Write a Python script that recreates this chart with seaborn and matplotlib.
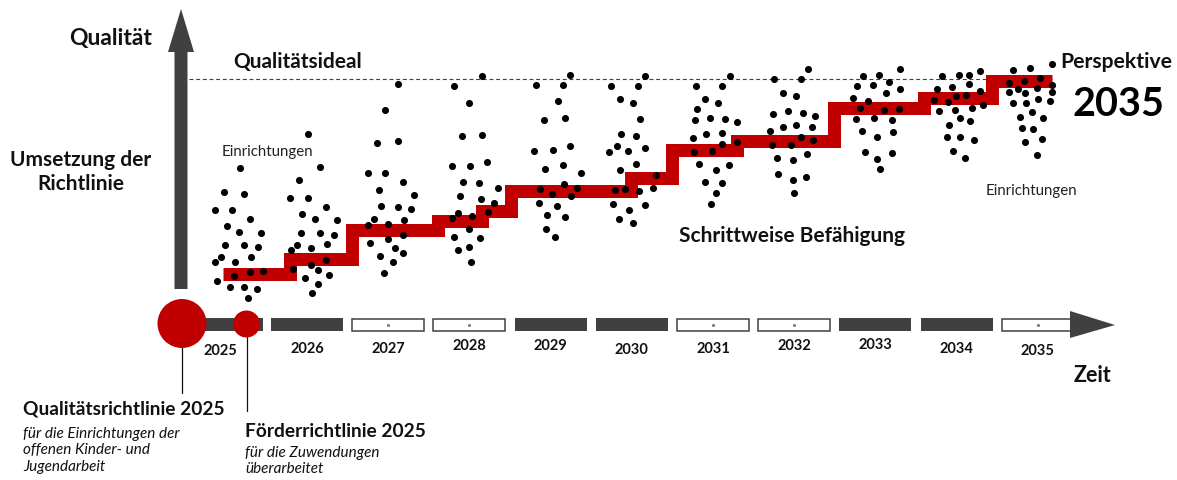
import matplotlib
matplotlib.use("Agg")
import numpy as np
import pandas as pd
import seaborn as sns
import matplotlib.pyplot as plt
from matplotlib.patches import FancyArrow, Circle

## canvas coordinates of the diagram (x to the right, y downwards)
W, H = 1177, 481

## timeline
years = [2025, 2026, 2027, 2028, 2029, 2030, 2031, 2032, 2033, 2034, 2035]
box_filled = [True, True, False, False, True, True, False, False, True, True, False]
label_y = [351, 349, 349, 346, 346, 350, 349, 346, 345, 349, 351]

## staircase (Schrittweise Befaehigung)
step_edges = [223, 289.5, 352, 438, 481.5, 510.5, 631, 672, 737, 834, 924, 992, 1052]
step_levels = [274.5, 260, 230.5, 221.5, 211.5, 191.5, 178.5, 150.5, 142, 109, 98.5, 82]

## Einrichtungen per year
dots_x_2025 = [240, 224, 244, 215, 232, 250, 227, 239, 261, 225, 244, 258, 221, 215, 235, 251, 234, 250, 263, 217, 230, 244, 257, 248]
dots_y_2025 = [169, 193, 195, 211, 211, 220, 227, 233, 234, 246, 246, 248, 258, 263, 263, 258, 277, 273, 272, 282, 288, 288, 290, 299]
dots_x_2026 = [308, 320, 299, 290, 308, 326, 302, 315, 337, 301, 320, 334, 297, 311, 327, 291, 326, 311, 293, 318, 305, 329, 318, 312]
dots_y_2026 = [135, 168, 181, 199, 199, 208, 215, 220, 221, 234, 234, 236, 246, 249, 245, 251, 261, 266, 270, 271, 279, 276, 285, 294]
dots_x_2027 = [398, 385, 377, 398, 368, 385, 403, 379, 414, 381, 398, 411, 374, 368, 388, 404, 403, 388, 370, 395, 380, 403, 393, 384]
dots_y_2027 = [85, 111, 144, 142, 174, 174, 183, 191, 196, 207, 208, 210, 220, 226, 225, 221, 236, 240, 244, 249, 257, 254, 263, 274]
dots_x_2028 = [482, 454, 469, 462, 482, 452, 470, 487, 463, 479, 498, 460, 481, 494, 458, 472, 452, 488, 469, 454, 480, 458, 469, 471]
dots_y_2028 = [77, 87, 104, 137, 136, 167, 167, 163, 183, 184, 189, 197, 200, 204, 214, 217, 219, 213, 230, 238, 239, 251, 248, 263]
dots_x_2029 = [570, 536, 563, 558, 544, 565, 534, 553, 570, 545, 563, 581, 564, 540, 552, 577, 571, 539, 557, 547, 565, 546, 555]
dots_y_2029 = [76, 86, 86, 102, 121, 119, 152, 151, 147, 170, 166, 174, 185, 190, 195, 189, 197, 204, 207, 216, 218, 230, 238]
dots_x_2030 = [645, 611, 638, 620, 633, 640, 621, 636, 617, 609, 628, 645, 636, 620, 656, 615, 625, 639, 653, 613, 629, 645, 619, 633]
dots_y_2030 = [77, 87, 87, 100, 104, 120, 135, 137, 147, 153, 152, 149, 165, 171, 176, 191, 190, 192, 189, 205, 211, 206, 220, 224]
dots_x_2031 = [730, 696, 722, 705, 718, 697, 695, 710, 725, 737, 693, 706, 722, 722, 737, 694, 712, 699, 729, 716, 705, 722, 716, 711]
dots_y_2031 = [77, 87, 87, 100, 104, 110, 121, 119, 120, 123, 139, 135, 134, 145, 143, 153, 152, 165, 166, 171, 183, 184, 194, 205]
dots_x_2032 = [808, 774, 801, 783, 796, 773, 788, 803, 815, 783, 796, 812, 770, 801, 813, 772, 791, 777, 793, 807, 778, 793, 806, 794]
dots_y_2032 = [70, 80, 80, 94, 97, 115, 112, 114, 117, 128, 126, 128, 132, 138, 141, 146, 146, 159, 161, 155, 175, 181, 178, 194]
dots_x_2033 = [900, 863, 879, 857, 873, 889, 886, 900, 853, 868, 860, 884, 899, 856, 874, 892, 862, 877, 893, 865, 877, 892, 880]
dots_y_2033 = [70, 77, 76, 87, 86, 83, 94, 90, 99, 102, 109, 111, 110, 120, 119, 121, 132, 138, 133, 153, 160, 154, 170]
dots_x_2034 = [942, 959, 969, 980, 937, 952, 969, 980, 934, 948, 956, 966, 983, 939, 955, 972, 960, 970, 949, 947, 960, 974, 953, 965]
dots_y_2034 = [77, 76, 76, 72, 90, 88, 85, 92, 101, 103, 97, 96, 106, 112, 111, 109, 119, 122, 126, 138, 138, 141, 152, 159]
dots_x_2035 = [1013, 1030, 1052, 1040, 1009, 1024, 1037, 1052, 1009, 1018, 1025, 1052, 1013, 1026, 1038, 1050, 1032, 1020, 1043, 1022, 1033, 1042, 1025, 1037]
dots_y_2035 = [71, 69, 65, 79, 84, 82, 89, 86, 93, 90, 94, 93, 104, 104, 100, 102, 113, 118, 119, 129, 130, 140, 143, 156]

dots = pd.concat([
    pd.DataFrame({"x": dots_x_2025, "y": dots_y_2025, "year": 2025}),
    pd.DataFrame({"x": dots_x_2026, "y": dots_y_2026, "year": 2026}),
    pd.DataFrame({"x": dots_x_2027, "y": dots_y_2027, "year": 2027}),
    pd.DataFrame({"x": dots_x_2028, "y": dots_y_2028, "year": 2028}),
    pd.DataFrame({"x": dots_x_2029, "y": dots_y_2029, "year": 2029}),
    pd.DataFrame({"x": dots_x_2030, "y": dots_y_2030, "year": 2030}),
    pd.DataFrame({"x": dots_x_2031, "y": dots_y_2031, "year": 2031}),
    pd.DataFrame({"x": dots_x_2032, "y": dots_y_2032, "year": 2032}),
    pd.DataFrame({"x": dots_x_2033, "y": dots_y_2033, "year": 2033}),
    pd.DataFrame({"x": dots_x_2034, "y": dots_y_2034, "year": 2034}),
    pd.DataFrame({"x": dots_x_2035, "y": dots_y_2035, "year": 2035}),
], ignore_index=True)

sns.set_theme(style="white")
plt.rcParams['font.family'] = ['Lato', 'DejaVu Sans']

RED = "#C00000"
DARK = "#404040"
TXT = "#111111"

fig = plt.figure(figsize=(W / 100, H / 100), dpi=100)
ax = fig.add_axes([0, 0, 1, 1])
ax.set_xlim(0, W)
ax.set_ylim(H, 0)
ax.axis("off")

## year -> canvas x
def year_x(y):
    return 307 + (y - 2026) * 81.2

## vertical axis arrow (Qualitaet)
ax.add_patch(FancyArrow(181, 290, 0, -280, width=13, head_width=26, head_length=43,
                        length_includes_head=True, color=DARK, lw=0, zorder=2))

## timeline boxes
for yr, filled in zip(years, box_filled):
    if yr == 2025:
        left, width = 180, 83
    else:
        left, width = year_x(yr) - 36, 72
    if filled:
        ax.bar(left, 13, width=width, bottom=319, align="edge", color=DARK, lw=0, zorder=2)
    else:
        ax.bar(left, 12, width=width, bottom=319.5, align="edge", color="white",
               edgecolor=DARK, lw=1.1, zorder=2)
        ax.plot(left + width / 2, 325.5, marker="s", ms=1.2, color="#888888", zorder=3)

## timeline arrow head
ax.fill([1070, 1115, 1070], [312, 326, 339], color=DARK, lw=0, zorder=3)

## year labels
for yr, ly in zip(years, label_y):
    lx = 220 if yr == 2025 else year_x(yr)
    ax.text(lx, ly, str(yr), ha="center", va="center", fontsize=10.5, fontweight="bold", color=TXT)

## red milestones
ax.plot([182, 182], [348, 394], color=TXT, lw=0.9, zorder=3)
ax.plot([246.5, 246.5], [338, 412], color=TXT, lw=0.9, zorder=3)
ax.add_patch(Circle((182, 324.5), 24.5, color=RED, lw=0, zorder=4))
ax.add_patch(Circle((246.5, 325), 13.5, color=RED, lw=0, zorder=4))

## staircase
ax.plot(step_edges, step_levels + [step_levels[-1]], drawstyle="steps-post", color=RED,
        lw=13 * 0.72, solid_joinstyle="miter", solid_capstyle="butt", zorder=4)

## Qualitaetsideal
ax.plot([189, 1052], [80, 80], color=DARK, lw=0.8, dashes=(3.5, 2.5), zorder=5)

## Einrichtungen
sns.scatterplot(data=dots, x="x", y="y", color="black", s=26, linewidth=0, ax=ax, zorder=6, legend=False)
ax.set_xlim(0, W)
ax.set_ylim(H, 0)
ax.axis("off")

## texts
ax.text(152, 38, "Qualität", ha="right", va="center", fontsize=16.5, fontweight="bold", color=TXT)
ax.text(81, 172, "Umsetzung der\nRichtlinie", ha="center", va="center", fontsize=15,
        fontweight="bold", color=TXT, linespacing=1.2)
ax.text(233, 62, "Qualitätsideal", ha="left", va="center", fontsize=15, fontweight="bold", color=TXT)
ax.text(267, 152, "Einrichtungen", ha="center", va="center", fontsize=10.8, color="#222222")
ax.text(1031, 191, "Einrichtungen", ha="center", va="center", fontsize=10.8, color="#222222")
ax.text(1116, 62, "Perspektive", ha="center", va="center", fontsize=15.2, fontweight="bold", color=TXT)
ax.text(1118, 104, "2035", ha="center", va="center", fontsize=28.5, fontweight="bold", color="black")
ax.text(792, 236, "Schrittweise Befähigung", ha="center", va="center", fontsize=15,
        fontweight="bold", color=TXT)
ax.text(1093, 376, "Zeit", ha="center", va="center", fontsize=15.5, fontweight="bold", color=TXT)

ax.text(23, 409, "Qualitätsrichtlinie 2025", ha="left", va="center", fontsize=13.8,
        fontweight="bold", color=TXT)
ax.text(23, 450.5, "für die Einrichtungen der\noffenen Kinder- und\nJugendarbeit", ha="left",
        va="center", fontsize=11, style="italic", color=TXT, linespacing=1.2)
ax.text(245, 432, "Förderrichtlinie 2025", ha="left", va="center", fontsize=13.8,
        fontweight="bold", color=TXT)
ax.text(245, 461, "für die Zuwendungen\nüberarbeitet", ha="left", va="center", fontsize=11,
        style="italic", color=TXT, linespacing=1.2)

fig.savefig("out.png", dpi=100)
